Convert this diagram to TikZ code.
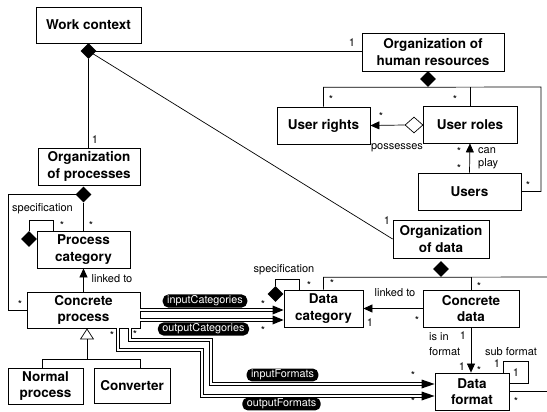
\documentclass[tikz,border=0pt]{standalone}
\usepackage{fontspec}
\setmainfont{TeX Gyre Heros}
\usetikzlibrary{arrows.meta,shapes.geometric,calc}
\begin{document}
\begin{tikzpicture}[x=1pt,y=-1pt,
 box/.style={draw, line width=0.8pt, inner sep=0pt, align=center, font=\fontsize{13.5}{16.5}\selectfont\bfseries},
 lbl/.style={font=\fontsize{11}{13}\selectfont, inner sep=0pt},
 star/.style={font=\fontsize{11}{13}\selectfont, inner sep=0pt, yshift=-2.6pt},
 pill/.style={fill=black, text=white, rounded corners=5.5pt, inner xsep=4.5pt, inner ysep=1.3pt, font=\fontsize{10.8}{12}\selectfont},
 conn/.style={line width=0.7pt},
 dia/.style={diamond, fill=black, inner sep=0pt, minimum width=16pt, minimum height=16pt},
 odia/.style={diamond, draw, fill=white, line width=0.7pt, inner sep=0pt, minimum width=18pt, minimum height=16pt},
 arr/.style={conn, -{Triangle[length=9pt,width=8pt]}},
 dbl/.style={line width=1.7pt, double=white, double distance=1.5pt},
]
\useasboundingbox (0,0) rectangle (547,412);
\clip (0,0) rectangle (547,412);
\fill[white] (0,0) rectangle (547,412);

% boxes
\node[box, minimum width=105pt, minimum height=36pt] (wc) at (88.5,25) {Work context};
\node[box, minimum width=142pt, minimum height=38pt] (ohr) at (433,52) {Organization of\\human resources};
\node[box, minimum width=93pt, minimum height=37pt] (urt) at (323.5,125.5) {User rights};
\node[box, minimum width=94pt, minimum height=37pt] (uro) at (470,124.5) {User roles};
\node[box, minimum width=103pt, minimum height=37pt] (us) at (469.5,191.5) {Users};
\node[box, minimum width=102pt, minimum height=37pt] (op) at (89,166.5) {Organization\\of processes};
\node[box, minimum width=96pt, minimum height=38pt] (od) at (441,239) {Organization\\of data};
\node[box, minimum width=93pt, minimum height=37pt] (pc) at (83.5,249.5) {Process\\category};
\node[box, minimum width=113pt, minimum height=36pt] (cp) at (83.5,310) {Concrete\\process};
\node[box, minimum width=79pt, minimum height=37pt] (dc) at (323.5,308.5) {Data\\category};
\node[box, minimum width=96pt, minimum height=37pt] (cd) at (471,308.5) {Concrete\\data};
\node[box, minimum width=74pt, minimum height=37pt] (df) at (472,391.5) {Data\\format};
\node[box, minimum width=75pt, minimum height=36pt] (np) at (45.5,386) {Normal\\process};
\node[box, minimum width=76pt, minimum height=35pt] (cv) at (132,385.5) {Converter};

% diamonds
\node[dia] (dwc) at (88.5,51) {};
\node[dia] (dohr) at (428,79) {};
\node[dia] (dop) at (83.5,194.5) {};
\node[dia] (dpc) at (29,239) {};
\node[dia] (dod) at (441,269) {};
\node[dia] (ddc) at (275.5,294) {};
\node[odia] (hd) at (414,125) {};

% coordinates for bends
\coordinate (hrR) at (541,87);
\coordinate (pl) at (8,0);
\coordinate (gj) at (87,359);
\coordinate (gl) at (42,359);
\coordinate (gr) at (140,359);
\coordinate (odR) at (560,277);

% work context associations
\draw[conn] (dwc.center) -- (dwc.center -| ohr.west);
\draw[conn] (dwc.south) -- (dwc.south |- op.north);
\draw[conn] (dwc.center) -- (od.west);

% human resources
\draw[conn] (urt.north) |- (dohr.south) -- (hrR) |- (us.east);
\draw[conn] (uro.north) -- (uro.north |- dohr.south);
\draw[arr] (hd.west) -- (urt.east);
\draw[arr] (us.north) -- (uro.south);

% processes
\draw[conn] (dop.center) -| (pl |- cp.west) -- (cp.west);
\draw[conn] (dop.south) -- (pc.north);
\draw[conn] (dpc.north) -- ++(0,-10) -| ([xshift=-30.5pt]pc.north);
\draw[arr] (cp.north) -- (pc.south);
\draw[conn, -{Triangle[open, length=11pt, width=14pt]}] (gj) -- (gj |- cp.south);
\draw[conn] (gl |- np.north) -- (gl) -- (gr) -- (gr |- cv.north);

% data
\draw[conn] (dc.north) |- (dod.south) -- (odR) |- (df.east);
\draw[conn] (cd.north) -- (cd.north |- dod.south);
\draw[conn] (ddc.north) -- ++(0,-6) -| ([xshift=-24.5pt]dc.north);
\draw[arr] (cd.west) -- (dc.east);
\draw[arr] (cd.south) -- (cd.south |- df.north);
\draw[conn] ([xshift=31pt]df.north) |- (528,361) |- ([yshift=8.5pt]df.east);

% double-line associations
\coordinate (cs2) at ([yshift=-10pt]cp.east);
\coordinate (ic1) at (cp.east -| dc.west);
\coordinate (ic2) at (cs2 -| dc.west);
\draw[dbl] (cp.east) -- ($(ic1)+(-9,0)$);
\fill (ic1) -- ++(-11,-4.5) -- ++(0,9) -- cycle;
\draw[dbl] (cs2) -- ($(ic2)+(-9,0)$);
\fill (ic2) -- ++(-11,-4.5) -- ++(0,9) -- cycle;

\coordinate (fo1) at ([xshift=46.5pt]cp.south);
\coordinate (fo2) at ([xshift=34.5pt]cp.south);
\coordinate (if3) at (211,384);
\coordinate (of3) at (202,396);
\coordinate (ife) at (if3 -| df.west);
\coordinate (ofe) at (of3 -| df.west);
\draw[dbl] (fo1) |- (211,340) -- (if3) -- ($(ife)+(-11,0)$);
\fill (ife) -- ++(-13,-4.5) -- ++(0,9) -- cycle;
\draw[dbl] (fo2) |- (202,350) -- (of3) -- ($(ofe)+(-11,0)$);
\fill (ofe) -- ++(-13,-4.5) -- ++(0,9) -- cycle;

% pills
\node[pill] (pic) at (205,301) {inputCategories};
\node[pill] (poc) at (203.5,329) {outputCategories};
\node[pill] (pif) at (282.5,375) {inputFormats};
\node[pill] (pof) at (281.5,404) {outputFormats};

% labels
\node[lbl] (m1) at (95,140) {1};
\node[lbl] (m2) at (352,43) {1};
\node[lbl] (m3) at (387,221) {1};
\node[star] (s1) at (331,97) {*};
\node[star] (s2) at (455,97) {*};
\node[star] (s3) at (528,183) {*};
\node[star] (s4) at (381,114) {*};
\node[lbl] (l1) at (397,148) {possesses};
\node[star] (s5) at (459,149) {*};
\node[star] (s6) at (459,166) {*};
\node[lbl, anchor=west] (l2) at (478,151) {can};
\node[lbl, anchor=west] (l3) at (478,164) {play};

\node[lbl] (l4) at (42.5,209) {specification};
\node[star] (s7) at (62,223) {*};
\node[star] (s8) at (91,223) {*};
\node[lbl] (l5) at (112,279) {linked to};
\node[star] (s9) at (20,302) {*};
\node[star] (s10) at (112,333) {*};
\node[star] (s11) at (135,332) {*};
\node[star] (s12) at (263,302) {*};
\node[star] (s13) at (263,328) {*};

\node[lbl] (l6) at (284,270) {specification};
\node[star] (s14) at (309,283) {*};
\node[star] (s15) at (332,281) {*};
\node[star] (s16) at (479,284) {*};
\node[lbl] (l7) at (395,293) {linked to};
\node[star] (s17) at (417,318) {*};
\node[lbl] (m4) at (370,323) {1};
\node[lbl, anchor=west] (l8) at (429,337) {is in};
\node[lbl, anchor=west] (l9) at (429,352) {format};
\node[lbl] (m5) at (463,336) {1};
\node[lbl] (m6) at (462,367) {1};
\node[star] (s18) at (479,368) {*};
\node[lbl] (l10) at (511,352) {sub format};
\node[lbl] (m7) at (497,364) {1};
\node[lbl] (m8) at (516,373) {1};
\node[star] (s19) at (413,373) {*};
\node[star] (s20) at (413,399) {*};
\node[star] (s21) at (516,399) {*};
\end{tikzpicture}
\end{document}
